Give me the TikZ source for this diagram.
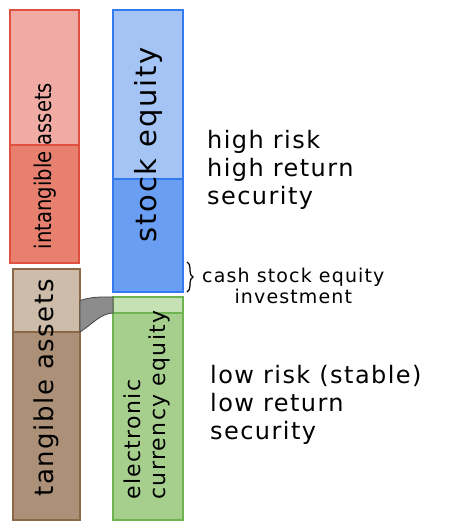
\documentclass[tikz,border=0pt]{standalone}
\usepackage{fontspec}
\setmainfont{DejaVu Sans}
\newfontfamily\hand[LetterSpace=6]{DejaVu Sans}
\newfontfamily\handnarrow[FakeStretch=0.85]{DejaVu Sans}
\usetikzlibrary{positioning,calc,decorations.pathreplacing}

\definecolor{redlight}{RGB}{240,172,164}
\definecolor{reddark}{RGB}{232,128,112}
\definecolor{redline}{RGB}{224,80,64}
\definecolor{bluelight}{RGB}{164,196,246}
\definecolor{bluedark}{RGB}{106,158,242}
\definecolor{blueline}{RGB}{52,122,240}
\definecolor{brownlight}{RGB}{205,188,170}
\definecolor{browndark}{RGB}{172,145,120}
\definecolor{brownline}{RGB}{140,105,70}
\definecolor{greenlight}{RGB}{198,226,180}
\definecolor{greendark}{RGB}{166,207,142}
\definecolor{greenline}{RGB}{110,180,80}
\definecolor{linkgray}{RGB}{140,140,140}
\definecolor{linkline}{RGB}{70,70,70}

\begin{document}
\begin{tikzpicture}[x=1pt,y=-1pt,
                    seg/.style={rectangle,draw,line width=1.3pt,inner sep=0pt,outer sep=0pt,anchor=north west},
                    lbl/.style={rotate=90,inner sep=0pt,align=left,font=\hand\fontsize{26}{26}\selectfont},
                    note/.style={anchor=west,inner sep=0pt,font=\hand\fontsize{24}{28}\selectfont},
                    curly/.style={decorate,decoration={brace,amplitude=6pt},line width=1.2pt}]

\useasboundingbox (0,0) rectangle (451,523);

% assets side
\node[seg,fill=redlight,draw=redline,minimum width=69pt,minimum height=135pt] (ia1) at (10,10) {};
\node[seg,fill=reddark,draw=redline,minimum width=69pt,minimum height=118pt,below=0pt of ia1] (ia2) {};
\node[seg,fill=brownlight,draw=brownline,minimum width=67pt,minimum height=63pt] (ta1) at (13,269) {};
\node[seg,fill=browndark,draw=brownline,minimum width=67pt,minimum height=188pt,below=0pt of ta1] (ta2) {};

% equity side
\node[seg,fill=bluelight,draw=blueline,minimum width=70pt,minimum height=169pt] (se1) at (113,10) {};
\node[seg,fill=bluedark,draw=blueline,minimum width=70pt,minimum height=113pt,below=0pt of se1] (se2) {};
\node[seg,fill=greenlight,draw=greenline,minimum width=70pt,minimum height=16pt] (ec1) at (113,297) {};
\node[seg,fill=greendark,draw=greenline,minimum width=70pt,minimum height=207pt,below=0pt of ec1] (ec2) {};

% link
\path[fill=linkgray,draw=linkline,line width=0.8pt] (ta1.east) .. controls +(12,-4) and +(-12,0) .. (ec1.north west)
  -- (ec1.south west) .. controls +(-12,0) and +(10,-6) .. (ta1.south east) -- cycle;

% labels
\node[lbl,font=\handnarrow\fontsize{23}{23}\selectfont] (ialbl) at (45,166) {intangible assets};
\node[lbl] (talbl) at (46,388) {tangible assets};
\node[lbl,font=\hand\fontsize{29}{29}\selectfont] (selbl) at (148,145) {stock equity};
\node[lbl,font=\hand\fontsize{22}{25}\selectfont] (eclbl) at (147,405) {electronic\\currency equity};

% notes
\coordinate (bt) at ([shift={(4,-30)}]se2.south east);
\coordinate (bb) at ([xshift=4]se2.south east);
\draw[curly] (bt) -- (bb);

\node[note,align=left] (hinote) at (207,170) {high risk\\high return\\security};
\node[note,align=center,font=\hand\fontsize{19}{21}\selectfont] (cashnote) at ($(bt)!0.5!(bb)+(15,9)$) {cash stock equity\\investment};
\node[note,align=left] (lonote) at (210,405) {low risk (stable)\\low return\\security};

\end{tikzpicture}
\end{document}
